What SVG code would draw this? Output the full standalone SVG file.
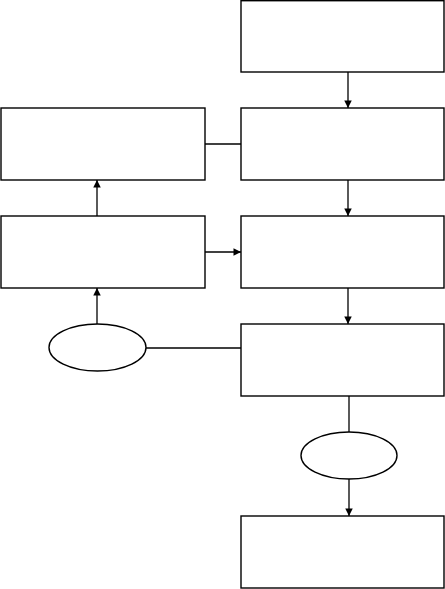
<svg xmlns="http://www.w3.org/2000/svg" width="445" height="589" viewBox="0 0 445 589">
<style>
.box{fill:#fff;stroke:#000;stroke-width:1.4}
.conn{fill:none;stroke:#000;stroke-width:1.3}
</style>
<defs>
<marker id="ah" viewBox="0 0 10 10" refX="10" refY="5" markerWidth="8" markerHeight="7.5" markerUnits="userSpaceOnUse" orient="auto">
<path d="M0,0 L10,5 L0,10 Z" fill="#000"/>
</marker>
</defs>
<rect width="445" height="589" fill="#fff"/>
<g id="connectors">
<line class="conn" x1="348" y1="72" x2="348" y2="108" marker-end="url(#ah)"/>
<line class="conn" x1="205" y1="144" x2="241" y2="144"/>
<line class="conn" x1="348" y1="180" x2="348" y2="216" marker-end="url(#ah)"/>
<line class="conn" x1="97" y1="216" x2="97" y2="180" marker-end="url(#ah)"/>
<line class="conn" x1="205" y1="252" x2="241" y2="252" marker-end="url(#ah)"/>
<line class="conn" x1="348" y1="288" x2="348" y2="324" marker-end="url(#ah)"/>
<line class="conn" x1="97" y1="324" x2="97" y2="288" marker-end="url(#ah)"/>
<line class="conn" x1="146" y1="348" x2="241" y2="348"/>
<line class="conn" x1="349" y1="396" x2="349" y2="432"/>
<line class="conn" x1="349" y1="479" x2="349" y2="516" marker-end="url(#ah)"/>
</g>
<g id="box1"><rect class="box" x="241" y="0.7" width="203" height="71.3"/></g>
<g id="box2"><rect class="box" x="241" y="108" width="203" height="72"/></g>
<g id="box3"><rect class="box" x="241" y="216" width="203" height="72"/></g>
<g id="box4"><rect class="box" x="241" y="324" width="203" height="72"/></g>
<g id="box5"><rect class="box" x="241" y="516" width="203" height="72"/></g>
<g id="left1"><rect class="box" x="1" y="108" width="204" height="72"/></g>
<g id="left2"><rect class="box" x="1" y="216" width="204" height="72"/></g>
<g id="ellipse-left"><ellipse class="box" cx="97.5" cy="347.5" rx="48.5" ry="23.5"/></g>
<g id="ellipse-right"><ellipse class="box" cx="349" cy="455.5" rx="48" ry="23.5"/></g>
</svg>
